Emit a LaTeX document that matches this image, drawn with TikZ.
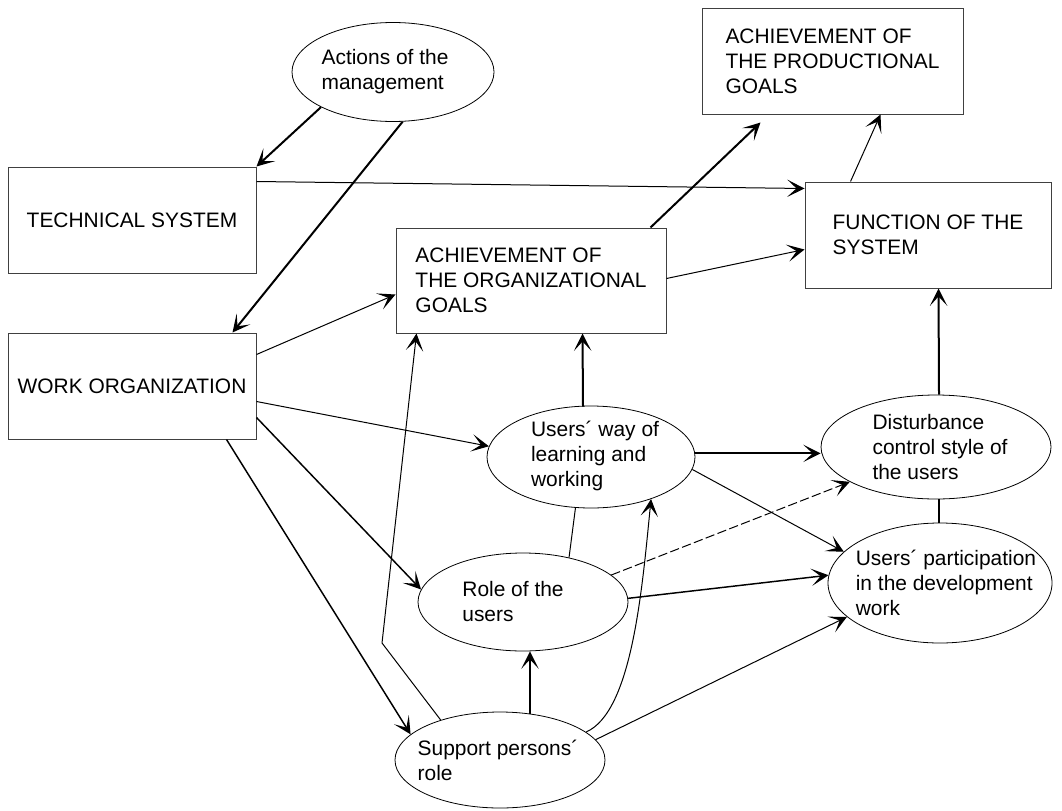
\documentclass[tikz,border=0pt]{standalone}
\usepackage{fontspec}
\setmainfont{Liberation Sans}
\usetikzlibrary{arrows.meta,calc,shapes.geometric}

\begin{document}
\begin{tikzpicture}[x=0.75pt,y=-0.75pt,
  every node/.style={font=\fontsize{15.7pt}{18.75pt}\selectfont},
  box/.style={draw=black!75, line width=0.75pt, rectangle, inner sep=0pt, align=left},
  oval/.style={draw, line width=0.6pt, ellipse, inner sep=0pt},
  txt/.style={align=left, inner sep=0pt},
  conn/.style={-{Stealth[length=13pt,width=13pt,inset=7pt]}, line width=0.75pt},
  mid/.style={conn, line width=1.1pt},
  heavy/.style={conn, line width=1.5pt},
  plain/.style={line width=0.75pt},
  plainheavy/.style={line width=1.3pt}]
\useasboundingbox (0,0) rectangle (1062,810);

% rectangular blocks
\node[box, minimum width=248*0.75pt, minimum height=106*0.75pt] (tech) at (132,220) {TECHNICAL SYSTEM};
\node[box, minimum width=248*0.75pt, minimum height=106*0.75pt] (work) at (132,386) {WORK ORGANIZATION};
\node[box, minimum width=270*0.75pt, minimum height=105*0.75pt] (ach) at (531,280.5) {ACHIEVEMENT OF\\THE ORGANIZATIONAL\\GOALS};
\node[box, minimum width=261*0.75pt, minimum height=106*0.75pt] (prod) at (832.5,61) {ACHIEVEMENT OF\\THE PRODUCTIONAL\\GOALS};
\node[box, minimum width=246*0.75pt, minimum height=106*0.75pt] (fun) at (928,235) {FUNCTION OF THE\\SYSTEM};

% elliptic blocks
\node[oval, minimum width=202*0.75pt, minimum height=99*0.75pt] (act) at (393,72) {};
\node[oval, minimum width=208*0.75pt, minimum height=102*0.75pt] (uw) at (591,457) {};
\node[oval, minimum width=210*0.75pt, minimum height=98*0.75pt] (role) at (523,602) {};
\node[oval, minimum width=210*0.75pt, minimum height=96*0.75pt] (sup) at (500,760) {};
\node[oval, minimum width=230*0.75pt, minimum height=104*0.75pt] (dist) at (936,447) {};
\node[oval, minimum width=224*0.75pt, minimum height=120*0.75pt] (par) at (940,583) {};

\node[txt] (actT) at (385,72) {Actions of the\\management};
\node[txt] (uwT) at (595,456) {Users´ way of\\learning and\\working};
\node[txt] (roleT) at (513,602) {Role of the\\users};
\node[txt] (supT) at (498,760) {Support persons´\\role};
\node[txt] (distT) at (940,447) {Disturbance\\control style of\\the users};
\node[txt] (parT) at (946,583) {Users´ participation\\in the development\\work};

% connectors
\draw[heavy] (act.206) -- (tech.north east);
\draw[heavy] (act.281) -- ($(work.north east)+(-24,0)$);
\draw[conn] ($(tech.north east)+(0,15)$) -- ($(fun.north west)+(0,7)$);
\draw[heavy] ($(ach.north east)+(-16,0)$) -- ($(prod.south west)+(59,8)$);
\draw[conn] ($(fun.north west)+(46,0)$) -- ($(prod.south west)+(179,0)$);
\draw[conn] ($(ach.north east)+(0,51)$) -- ($(fun.north west)+(0,68)$);
\draw[conn] ($(work.north east)+(0,22)$) -- ($(ach.north west)+(0,67)$);
\draw[heavy] ($(uw.north)+(-8,1)$) -- ($(ach.south west)+(187,0)$);
\draw[heavy] ($(dist.north)+(3,0)$) -- ($(fun.south west)+(134,0)$);
\draw[conn] ($(work.north east)+(0,69)$) -- (uw.174);
\draw[mid] ($(work.north east)+(0,85)$) -- (role.173);
\draw[mid] ($(work.south east)+(-30,0)$) -- (sup.164);
\draw[conn] (sup.146) -- (382,643) -- ($(ach.south west)+(21,0)$);
\draw[heavy] (uw.2) -- (uw.2 -| dist.west);
\draw[conn] (uw.353) -- (par.162);
\draw[conn, dash pattern=on 7pt off 2.5pt] (role.17) -- (dist.202);
\draw[mid] (role.2) -- (par.176);
\draw[plain] (uw.253) -- (role.44);
\draw[plainheavy] ($(dist.south)+(3,0)$) -- ($(par.north)+(-1,0)$);
\draw[heavy] ($(sup.north)+(30,2)$) -- ($(role.south)+(7,0)$);
\draw[conn] (sup.18) .. controls (632,712) and (642,590) .. (uw.325);
\draw[conn] (sup.12) -- (par.200);
\end{tikzpicture}
\end{document}
